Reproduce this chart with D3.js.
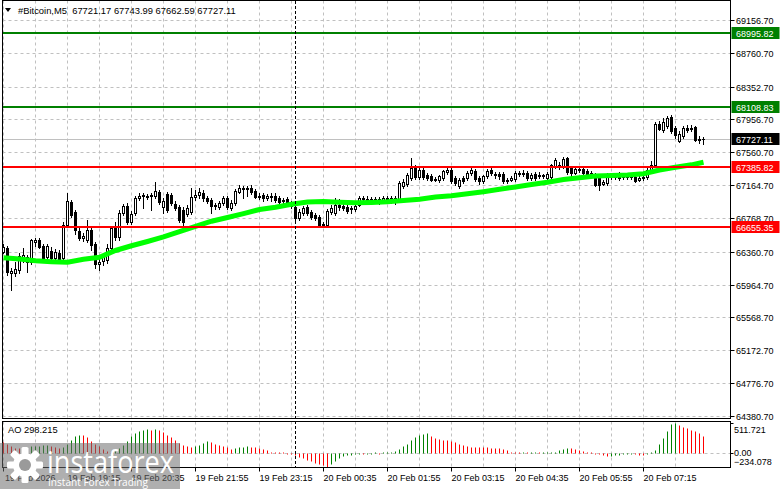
<!DOCTYPE html>
<html><head><meta charset="utf-8">
<script src="https://cdn.jsdelivr.net/npm/d3@7"></script>
<style>
body{margin:0;background:#fff;}
svg{display:block;}
text{font-family:Tahoma,"Liberation Sans",Arial,sans-serif;}
</style>
</head><body>
<svg id="c" width="781" height="489"></svg>
<script>
// ---------------- DATA ----------------
const symbolLabel = "#Bitcoin,M5";
const startTime = "2026-02-19T17:55:00Z";
const barMinutes = 5;

const open = [
66359,66407,66106,66106,66142,66287,66299,66238,66480,66504,
66431,66299,66371,66287,66347,66287,66684,66962,66841,66612,
66528,66504,66624,66455,66214,66250,66262,66407,66672,66540,
66829,66914,66721,66829,67010,67034,67034,67034,67034,67082,
66902,67058,67046,66938,66902,66865,66817,66841,67022,67046,
67070,67010,66986,66914,66902,66950,67010,66890,66950,67082,
67131,67119,67131,67094,67034,67046,67010,67022,67034,67010,
66986,66998,66950,66902,66769,66829,66902,66841,66805,66781,
66684,66684,66841,66829,66926,66914,66902,66877,66877,66926,
67010,66998,66998,66986,66998,66974,67010,66974,67010,66986,
67155,67179,67251,67372,67263,67348,67287,67275,67239,67227,
67251,67324,67348,67251,67155,67251,67251,67312,67336,67251,
67215,67275,67348,67300,67300,67300,67215,67227,67239,67312,
67300,67312,67251,67300,67287,67275,67251,67263,67396,67408,
67396,67493,67372,67312,67360,67360,67336,67312,67287,67251,
67179,67191,67275,67263,67287,67263,67275,67263,67263,67227,
67251,67263,67348,67408,67902,67830,67878,67987,67854,67697,
67758,67854,67842,67866,67722,67721.17];

const high = [
66455,66431,66166,66238,66347,66407,66323,66516,66528,66528,
66455,66455,66419,66395,66383,66721,67070,66986,66865,66648,
66588,66745,66648,66480,66287,66335,66455,66672,66721,66865,
66938,66950,66853,67034,67070,67070,67058,67070,67203,67107,
67010,67082,67070,66974,66926,66902,66926,67131,67107,67131,
67107,67034,67010,66950,66974,67034,67034,66986,67119,67167,
67155,67155,67167,67119,67070,67070,67058,67070,67070,67034,
67010,67022,66974,66926,66877,66914,66926,66865,66829,66805,
66721,66877,66926,67010,66998,66962,66938,66914,66938,67034,
67034,67034,67022,67022,67022,67034,67034,67034,67034,67215,
67239,67312,67493,67408,67384,67384,67312,67300,67263,67287,
67348,67372,67372,67275,67251,67275,67336,67372,67360,67275,
67287,67360,67372,67324,67324,67324,67251,67275,67336,67336,
67348,67336,67312,67324,67324,67300,67324,67420,67493,67444,
67505,67505,67396,67384,67396,67396,67360,67336,67312,67275,
67227,67312,67300,67300,67324,67300,67300,67287,67287,67275,
67275,67372,67456,67927,67939,67975,67999,68011,67878,67818,
67878,67890,67890,67878,67758,67743.99];

const low = [
66347,66082,65901,66070,66106,66238,66118,66214,66431,66407,
66262,66275,66238,66262,66250,66262,66660,66781,66576,66504,
66492,66480,66383,66166,66142,66202,66226,66383,66504,66504,
66805,66697,66697,66805,66986,66890,66998,66865,67010,66938,
66829,66841,66926,66865,66721,66660,66793,66817,66986,67010,
66974,66950,66829,66877,66877,66926,66877,66865,66926,67070,
67010,67034,67058,67010,66998,66974,66986,66974,66962,66938,
66950,66938,66890,66745,66745,66805,66805,66757,66745,66660,
66660,66660,66817,66805,66865,66865,66829,66829,66853,66914,
66974,66962,66950,66950,66938,66950,66962,66950,66938,66962,
67131,67155,67227,67239,67239,67239,67227,67215,67215,67203,
67227,67300,67191,67167,67131,67191,67227,67287,67215,67179,
67191,67251,67287,67251,67239,67191,67191,67215,67215,67275,
67275,67227,67227,67227,67251,67251,67227,67239,67372,67360,
67372,67300,67275,67300,67324,67287,67275,67263,67155,67107,
67167,67167,67239,67239,67227,67239,67239,67239,67203,67215,
67227,67239,67324,67384,67830,67806,67854,67794,67734,67685,
67734,67806,67818,67697,67673,67662.59];

const close = [
66419,66118,66130,66154,66311,66323,66238,66504,66504,66419,
66287,66431,66287,66359,66262,66684,66974,66805,66624,66528,
66552,66624,66443,66214,66238,66299,66407,66648,66540,66829,
66914,66721,66817,67010,67034,67046,67022,67046,67094,66962,
66974,66865,66950,66890,66745,66721,66890,67022,67046,67082,
67010,66974,66914,66926,66950,67010,66902,66950,67094,67131,
67119,67131,67082,67022,67022,67010,67034,67034,66986,66962,
66974,66950,66914,66769,66841,66890,66829,66781,66769,66684,
66697,66853,66890,66926,66902,66890,66853,66890,66914,67010,
66998,66986,66974,66998,66962,67010,66974,67010,66974,67191,
67203,67287,67372,67263,67348,67263,67251,67227,67227,67275,
67336,67348,67215,67191,67227,67215,67312,67348,67239,67215,
67275,67336,67312,67287,67275,67215,67227,67251,67312,67300,
67312,67251,67287,67251,67275,67287,67300,67408,67468,67396,
67481,67324,67312,67360,67348,67312,67287,67275,67167,67167,
67203,67275,67263,67275,67251,67275,67263,67275,67215,67251,
67263,67348,67408,67902,67842,67927,67975,67818,67770,67782,
67854,67830,67854,67710,67710,67727.11];

// moving average (read at sampled bars)
const maBars = [0,4,8,12,16,20,24,28,32,36,40,44,48,52,56,60,64,68,72,76,80,84,88,92,96,100,104,108,112,116,120,124,128,132,136,140,144,148,152,156,160,164,168,172,175];
const maValues = [66290,66274,66253,66242,66235,66271,66295,66377,66434,66485,66540,66604,66669,66730,66775,66821,66871,66899,66935,66962,66968,66959,66953,66957,66965,66979,66994,67023,67038,67060,67086,67116,67143,67173,67199,67232,67254,67275,67281,67287,67303,67348,67380,67410,67441];

// Awesome Oscillator
const ao = [
188,154,114,85,80,85,97,114,125,128,
131,142,114,97,85,102,154,228,285,313,
302,267,211,154,114,74,40,28,40,85,
142,211,285,341,381,398,404,398,415,393,
358,313,267,228,171,131,114,97,114,131,
165,199,188,154,131,114,97,74,85,97,
108,114,108,97,85,68,46,28,17,6,
1,-6,-11,-28,-57,-85,-114,-137,-159,-182,
-199,-234.078,-188,-131,-85,-51,-34,-23,-17,-11,
-17,-14,-8,-5,-7,12,20,28,40,63,
114,154,228,267,313,330,335,296,256,245,
228,226,211,182,154,131,114,110,108,106,
104,97,91,86,84,74,57,17,8,3,
5,2,4,6,3,5,10,18,28,51,
74,91,85,68,51,40,23,11,-6,-17,
-34,-51,-40,-34,-23,-17,-16,-11,-17,-23,
-28,-17,5,51,154,256,381,498,511.721,470,
452,425,395,372,350,298.215];
const aoMax = 511.721, aoMin = -234.078;

const priceTicks = [69156.70,68760.70,68352.70,67956.70,67560.70,67164.70,66768.70,66360.70,65964.70,65568.70,65172.70,64776.70,64380.70];
const priceMin = 64380.70, priceMax = 69156.70;
const resistanceLevels = [68995.82, 68108.83];
const supportLevels = [67385.82, 66655.35];

const timeTickTimes = ["2026-02-19T17:55:00Z","2026-02-19T19:15:00Z","2026-02-19T20:35:00Z","2026-02-19T21:55:00Z","2026-02-19T23:15:00Z","2026-02-20T00:35:00Z","2026-02-20T01:55:00Z","2026-02-20T03:15:00Z","2026-02-20T04:35:00Z","2026-02-20T05:55:00Z","2026-02-20T07:15:00Z"];
const timeTickLabels = ["19 Feb 2026","19 Feb 19:15","19 Feb 20:35","19 Feb 21:55","19 Feb 23:15","20 Feb 00:35","20 Feb 01:55","20 Feb 03:15","20 Feb 04:35","20 Feb 05:55","20 Feb 07:15"];

// ---------------- DRAW ----------------
const fmt2 = d3.format(".2f");
const t0 = Date.parse(startTime);
const times = open.map((_, i) => new Date(t0 + i * barMinutes * 60000));
const last = open.length - 1;

const L = 2.5, R = 730.5, MT = 0.5, MB = 418.5, AT = 421.5, AB = 467.5;
const x = d3.scaleTime().domain([times[0], times[last]]).range([3.5, 703.5]);
const y = d3.scaleLinear().domain([priceMin, priceMax]).range([416, 20]);
const ya = d3.scaleLinear().domain([aoMin, aoMax]).range([467, 423]);

const svg = d3.select("#c");
const defs = svg.append("defs");
defs.append("clipPath").attr("id","mainClip").append("rect").attr("x",3).attr("y",1).attr("width",R-3).attr("height",MB-1);
defs.append("clipPath").attr("id","aoClip").append("rect").attr("x",3).attr("y",AT+0.5).attr("width",R-3).attr("height",AB-AT-1);

const gridColor = "#c0c0c0";
const main = svg.append("g").attr("clip-path","url(#mainClip)");
const aoG = svg.append("g").attr("clip-path","url(#aoClip)");

// horizontal grid
main.selectAll("line.hg").data(priceTicks).join("line")
  .attr("x1",L).attr("x2",R)
  .attr("y1",d=>Math.round(y(d))+0.5).attr("y2",d=>Math.round(y(d))+0.5)
  .attr("stroke",gridColor).attr("stroke-dasharray","3,3");

// vertical grid (every 8 bars) in both panels
const gridBars = times.filter((_, i) => i % 8 === 0);
[ [main, MT, MB], [aoG, AT, AB] ].forEach(([g, a, b]) => {
  g.selectAll("line.vg").data(gridBars).join("line")
    .attr("x1",d=>x(d)).attr("x2",d=>x(d)).attr("y1",a).attr("y2",b)
    .attr("stroke",gridColor).attr("stroke-dasharray","3,3");
});

// current price line
main.append("line").attr("x1",L).attr("x2",R)
  .attr("y1",Math.round(y(close[last]))+0.5).attr("y2",Math.round(y(close[last]))+0.5)
  .attr("stroke","#c0c0c0");

// day separators
const daySep = times.filter((t, i) => i > 0 && t.getUTCDate() !== times[i-1].getUTCDate());
svg.selectAll("line.ds").data(daySep).join("line")
  .attr("x1",d=>x(d)).attr("x2",d=>x(d)).attr("y1",1).attr("y2",AB)
  .attr("stroke","#000").attr("stroke-dasharray","3,2");

// candles
const cg = main.append("g");
times.forEach((t, i) => {
  const cx = x(t);
  const o = open[i], c = close[i];
  cg.append("line").attr("x1",cx).attr("x2",cx)
    .attr("y1",Math.round(y(high[i]))).attr("y2",Math.round(y(low[i]))+1)
    .attr("stroke","#000");
  const top = Math.round(y(Math.max(o,c))) + 0.5;
  const bot = Math.round(y(Math.min(o,c))) + 0.5;
  if (bot - top < 1) {
    cg.append("line").attr("x1",cx-1.5).attr("x2",cx+1.5).attr("y1",top).attr("y2",top).attr("stroke","#000");
  } else {
    cg.append("rect").attr("x",cx-1).attr("y",top).attr("width",2).attr("height",bot-top)
      .attr("fill", c >= o ? "#fff" : "#000").attr("stroke","#000");
  }
});

// moving average
main.append("path")
  .attr("d", d3.line().x((d,k)=>x(times[d])).y((d,k)=>y(maValues[k])).curve(d3.curveLinear)(maBars))
  .attr("fill","none").attr("stroke","#00ff00").attr("stroke-width",5);

// level lines
resistanceLevels.forEach(p => main.append("line").attr("x1",L).attr("x2",R)
  .attr("y1",Math.round(y(p))).attr("y2",Math.round(y(p))).attr("stroke","#008000").attr("stroke-width",2));
supportLevels.forEach(p => main.append("line").attr("x1",L).attr("x2",R)
  .attr("y1",Math.round(y(p))).attr("y2",Math.round(y(p))).attr("stroke","#ff0000").attr("stroke-width",2));

// AO panel
aoG.append("line").attr("x1",L).attr("x2",R)
  .attr("y1",Math.round(ya(0))+0.5).attr("y2",Math.round(ya(0))+0.5)
  .attr("stroke",gridColor).attr("stroke-dasharray","3,3");
ao.forEach((v, i) => {
  const up = i > 0 ? v >= ao[i-1] : false;
  const z = Math.round(ya(0)) + 0.5;
  const yv = Math.round(ya(v)) + 0.5;
  aoG.append("line").attr("x1",x(times[i])).attr("x2",x(times[i]))
    .attr("y1",z).attr("y2",yv === z ? z - 1 : yv)
    .attr("stroke", up ? "#008000" : "#ff0000");
});

// frames
svg.append("rect").attr("x",L).attr("y",MT).attr("width",R-L).attr("height",MB-MT).attr("fill","none").attr("stroke","#000");
svg.append("rect").attr("x",L).attr("y",AT).attr("width",R-L).attr("height",AB-AT).attr("fill","none").attr("stroke","#000");

// right price axis
const ax = svg.append("g");
priceTicks.forEach(p => {
  const yy = Math.round(y(p)) + 0.5;
  ax.append("line").attr("x1",R).attr("x2",R+4).attr("y1",yy).attr("y2",yy).attr("stroke","#000");
  ax.append("text").attr("x",736).attr("y",yy+3.5).attr("font-size",9).attr("fill","#000").text(fmt2(p));
});
function priceBox(p, bg) {
  const yy = Math.round(y(p));
  ax.append("rect").attr("x",R+1).attr("y",yy-6).attr("width",48).attr("height",12).attr("fill",bg);
  ax.append("text").attr("x",736).attr("y",yy+3.5).attr("font-size",9).attr("fill","#fff").text(fmt2(p));
}
resistanceLevels.forEach(p => priceBox(p, "#008000"));
supportLevels.forEach(p => priceBox(p, "#ff0000"));
priceBox(close[last], "#000");

// AO axis labels
[[aoMax, 432.5, d3.format(".3f")], [0, 456, d3.format(".2f")], [aoMin, 464.5, d3.format(".3f")]].forEach(([v, by, f]) => {
  ax.append("text").attr("x",734).attr("y",by).attr("font-size",9).attr("fill","#000").text(f(v));
});
[aoMax, 0].forEach(v => {
  const yy = Math.round(ya(v)) + 0.5;
  ax.append("line").attr("x1",R).attr("x2",R+3).attr("y1",yy).attr("y2",yy).attr("stroke","#000");
});
svg.append("text").attr("x",8).attr("y",433).attr("font-size",9.3).attr("fill","#000")
  .text("AO " + d3.format(".3f")(ao[last]));

// time axis
timeTickTimes.forEach((s, k) => {
  const xx = x(new Date(Date.parse(s)));
  ax.append("line").attr("x1",xx).attr("x2",xx).attr("y1",AB).attr("y2",AB+4).attr("stroke","#000");
  ax.append("text").attr("x",xx+ (k===0 ? 1.5 : 0)).attr("y",481).attr("font-size",9).attr("fill","#000").text(timeTickLabels[k]);
});

// header
svg.append("path").attr("d","M5,8L11,8L8,12Z").attr("fill","#000");
svg.append("text").attr("x",18).attr("y",14).attr("font-size",9.4).attr("fill","#000")
  .attr("xml:space","preserve")
  .text(symbolLabel + "  " + [open[last], high[last], low[last], close[last]].map(fmt2).join(" "));

// watermark
const wm = svg.append("g");
wm.append("rect").attr("x",0).attr("y",443).attr("width",180).attr("height",46).attr("fill","rgba(110,110,110,0.55)");
const gear = wm.append("g").attr("transform","translate(25,465)");
d3.range(8).forEach(k => gear.append("rect").attr("x",-3.5).attr("y",-18).attr("width",7).attr("height",8)
  .attr("rx",1.5).attr("fill","#fff").attr("transform",`rotate(${k*45})`));
gear.append("circle").attr("r",12).attr("fill","#fff");
gear.append("circle").attr("r",6).attr("fill","#9a9a9a");
wm.append("text").attr("x",47).attr("y",473).attr("font-size",31).attr("fill","#fff")
  .attr("textLength",127).attr("lengthAdjust","spacingAndGlyphs")
  .style("font-family","'Open Sans',Lato,sans-serif").text("instaforex");
wm.append("text").attr("x",48).attr("y",486).attr("font-size",11).attr("fill","#fff")
  .attr("textLength",100).attr("lengthAdjust","spacingAndGlyphs")
  .style("font-family","'Open Sans',Lato,sans-serif").text("Instant Forex Trading");
</script>
</body></html>
